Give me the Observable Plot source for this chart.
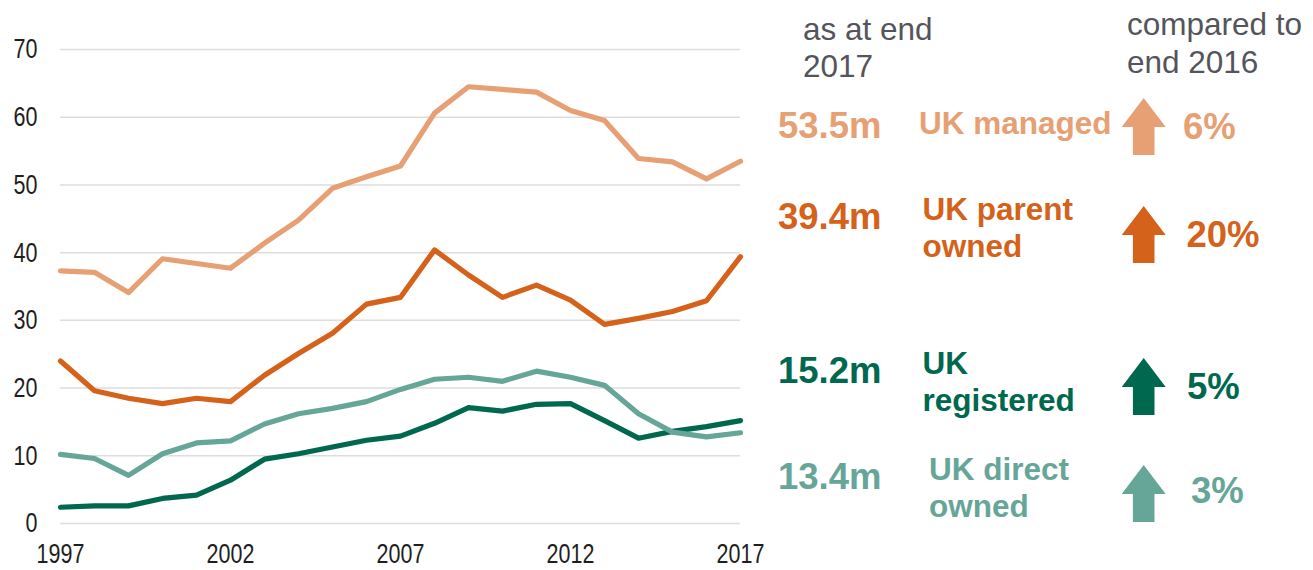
<!DOCTYPE html>
<html>
<head>
<meta charset="utf-8">
<script src="https://cdn.jsdelivr.net/npm/d3@7"></script>
<script src="https://cdn.jsdelivr.net/npm/@observablehq/plot@0.6"></script>
<style>
  body { margin: 0; background: #fff; }
  #wrap { position: relative; width: 1313px; height: 570px; font-family: "Liberation Sans", Arial, sans-serif; }
  #wrap > svg { position: absolute; left: 0; top: 0; }
</style>
</head>
<body>
<div id="wrap"></div>
<script>
// ---- data ----
const years = d3.range(1997, 2018);
const seriesNames = ["UK managed", "UK parent owned", "UK registered", "UK direct owned"];
const ukManaged     = [37.3, 37.1, 34.1, 39.1, 38.4, 37.7, 41.4, 44.8, 49.5, 51.2, 52.8, 60.6, 64.5, 64.1, 63.7, 61.0, 59.5, 53.9, 53.4, 50.9, 53.5];
const ukParentOwned = [24.0, 19.6, 18.5, 17.7, 18.5, 18.0, 21.9, 25.1, 28.1, 32.4, 33.4, 40.4, 36.7, 33.4, 35.2, 33.0, 29.4, 30.3, 31.3, 32.9, 39.4];
const ukRegistered  = [2.4, 2.6, 2.6, 3.7, 4.2, 6.4, 9.5, 10.3, 11.3, 12.3, 12.9, 14.8, 17.1, 16.6, 17.6, 17.7, 15.2, 12.6, 13.6, 14.3, 15.2];
const ukDirectOwned = [10.2, 9.6, 7.1, 10.3, 11.9, 12.2, 14.7, 16.2, 17.0, 18.0, 19.8, 21.3, 21.6, 21.0, 22.5, 21.6, 20.4, 16.2, 13.5, 12.8, 13.4];
const colors = ["#E6A073", "#D4621A", "#00684E", "#66A698"];
const yTicks = [0, 10, 20, 30, 40, 50, 60, 70];
const xTicks = [1997, 2002, 2007, 2012, 2017];
const latestLabels = ["53.5m", "39.4m", "15.2m", "13.4m"];
const nameLines = [["UK managed"], ["UK parent", "owned"], ["UK", "registered"], ["UK direct", "owned"]];
const changeLabels = ["6%", "20%", "5%", "3%"];

const allValues = [ukManaged, ukParentOwned, ukRegistered, ukDirectOwned];
const rows = [];
allValues.forEach((vals, si) => vals.forEach((v, i) => rows.push({series: seriesNames[si], year: years[i], value: v})));

const FONT = '"Liberation Sans", Arial, sans-serif';
const chart = Plot.plot({
  width: 1313,
  height: 570,
  marginLeft: 60,
  marginRight: 573,
  marginTop: 49,
  marginBottom: 47,
  style: {fontFamily: FONT, fontSize: "21.5px", color: "#1e1e1e", background: "transparent"},
  x: {domain: [1997, 2017], label: null},
  y: {domain: [0, 70], label: null},
  color: {domain: seriesNames, range: colors},
  marks: [
    Plot.gridY(yTicks, {stroke: "#dddddd", strokeOpacity: 1, strokeWidth: 1.5}),
    Plot.axisX(xTicks, {tickFormat: "d", tickSize: 0, tickPadding: 20, fontSize: 21.5, fill: "#1e1e1e", label: null}),
    Plot.axisY(yTicks, {tickSize: 0, tickPadding: 23, fontSize: 21.5, fill: "#1e1e1e", label: null}),
    Plot.line(rows, {x: "year", y: "value", z: "series", stroke: "series", strokeWidth: 5.2, strokeLinejoin: "round"})
  ]
});
document.getElementById("wrap").appendChild(chart);

// the reference's tick labels are slightly stretched vertically
d3.select(chart).selectAll('g[aria-label$="tick label"] text').each(function() {
  const t = this.getAttribute("transform") || "";
  this.setAttribute("transform", t + " scale(1,1.3)");
});

// ---- right-hand annotation panel ----
const ov = d3.select("#wrap").append("svg").attr("width", 1313).attr("height", 570)
  .style("font-family", FONT);

const gray = "#54545c";
const hdr = [
  ["as at end", 803, 40], ["2017", 803, 77],
  ["compared to", 1127, 35], ["end 2016", 1127, 73]
];
hdr.forEach(([t, x, y]) => ov.append("text").attr("x", x).attr("y", y).attr("fill", gray).attr("font-size", 31.5).text(t));

const layout = [
  {vy: 138, lx: 919, ly: [134], at: 98, px: 1183, py: 139},
  {vy: 229, lx: 922.5, ly: [220, 256.5], at: 206, px: 1186.5, py: 247},
  {vy: 382.5, lx: 922.5, ly: [374, 410.5], at: 358, px: 1187, py: 399},
  {vy: 488.5, lx: 929, ly: [480, 516.5], at: 465, px: 1191, py: 503}
];

layout.forEach((L, i) => {
  const c = colors[i];
  ov.append("text").attr("x", 778).attr("y", L.vy).attr("fill", c).attr("font-size", 36.5).attr("font-weight", "bold").text(latestLabels[i]);
  nameLines[i].forEach((t, j) => {
    ov.append("text").attr("x", L.lx).attr("y", L.ly[j]).attr("fill", c).attr("font-size", 31.5).attr("font-weight", "bold").text(t);
  });
  const cx = 1143.7, t = L.at;
  const pts = [[cx, t], [cx + 22, t + 29], [cx + 10.8, t + 29], [cx + 10.8, t + 57], [cx - 10.8, t + 57], [cx - 10.8, t + 29], [cx - 22, t + 29]];
  ov.append("polygon").attr("points", pts.map(p => p.join(",")).join(" ")).attr("fill", c);
  ov.append("text").attr("x", L.px).attr("y", L.py).attr("fill", c).attr("font-size", 36.5).attr("font-weight", "bold").text(changeLabels[i]);
});
</script>
</body>
</html>
